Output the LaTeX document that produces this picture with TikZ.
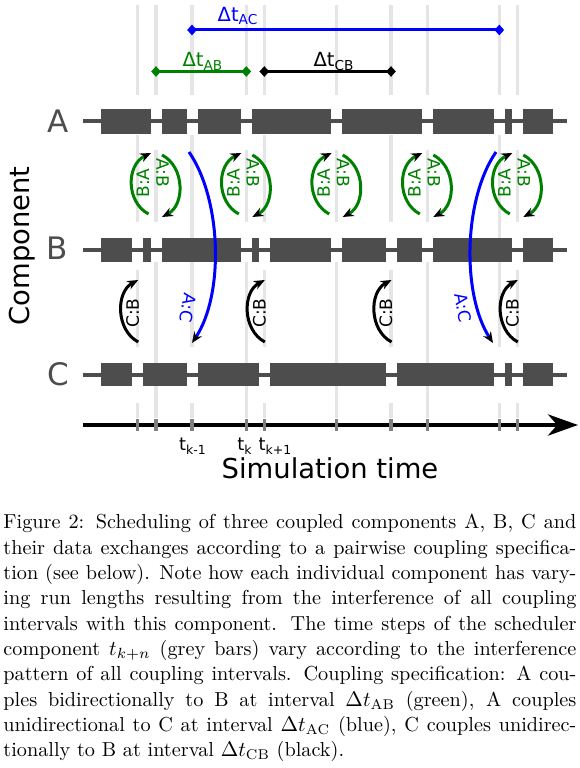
\documentclass[tikz,border=0pt]{standalone}
\usepackage{fontspec}
\usepackage{amsmath}
\usetikzlibrary{arrows.meta,shapes.geometric}

\newfontfamily\dejavu{DejaVu Sans}
\newlength\pxu
\setlength\pxu{0.4743pt}

\definecolor{bargrey}{HTML}{4D4D4D}
\definecolor{stepgrey}{HTML}{E5E5E5}
\definecolor{tickgrey}{HTML}{7F7F7F}
\definecolor{mplgreen}{HTML}{008000}
\definecolor{mplblue}{HTML}{0000FF}

\tikzset{
    rowlabel/.style={font=\dejavu\fontsize{14.7}{15}\selectfont, text=bargrey, inner sep=0pt},
    axislabel/.style={font=\dejavu\fontsize{13}{14}\selectfont, inner sep=0pt},
    dtlabel/.style={font=\dejavu\fontsize{9.25}{10}\selectfont, inner sep=0pt},
    xlabel/.style={font=\dejavu\fontsize{8.1}{9}\selectfont, inner sep=0pt},
    ticklabel/.style={font=\dejavu\fontsize{8.45}{9}\selectfont, inner sep=0pt},
    runbar/.style={fill=bargrey},
    runline/.style={draw=bargrey, line width=4\pxu},
    steprule/.style={draw=stepgrey, line width=3.5\pxu},
    steptick/.style={draw=tickgrey, line width=3.5\pxu},
    xchg/.style={line width=3\pxu, -{Stealth[length=5.2pt, width=4.3pt, color=black]}},
    interval/.style={line width=3\pxu},
    endmark/.style={diamond, fill, inner sep=0pt, minimum width=10\pxu, minimum height=11\pxu}
}

\begin{document}
\begin{tikzpicture}[x=\pxu, y=-\pxu]
\useasboundingbox (0,0) rectangle (579,768);

% scheduler time steps (grey bars)
\foreach \t in {137.7,156,192,246.3,264.3,336.7,391,427.3,499.3,517.3}{
    \draw[steprule] (\t,5) -- (\t,95);
    \draw[steprule] (\t,403) -- (\t,418);
}
\foreach \t in {156,246.3,336.7,427.3}{
    \draw[steprule] (\t,150) -- (\t,222);
    \draw[steprule] (\t,262) -- (\t,403);
}
\foreach \t in {137.7,264.3,391}{
    \draw[steprule] (\t,135) -- (\t,222);
    \draw[steprule] (\t,270) -- (\t,347);
}
\draw[steprule] (517.3,150) -- (517.3,222) (517.3,270) -- (517.3,347);
\foreach \t in {192,499.3}
    \draw[steprule] (\t,135) -- (\t,347);

% coupling intervals
\node[endmark, mplblue]  (ac-l) at (192,30) {};
\node[endmark, mplblue]  (ac-r) at (499.3,30) {};
\node[endmark, mplgreen] (ab-l) at (156,71.5) {};
\node[endmark, mplgreen] (ab-r) at (246.3,71.5) {};
\node[endmark]           (cb-l) at (264.3,71.5) {};
\node[endmark]           (cb-r) at (391,71.5) {};
\draw[interval, mplblue]  (ac-l.center) -- (ac-r.center);
\draw[interval, mplgreen] (ab-l.center) -- (ab-r.center);
\draw[interval]           (cb-l.center) -- (cb-r.center);
\node[dtlabel, mplblue]  (ac-lab) at (238,16)   {Δt\textsubscript{AC}};
\node[dtlabel, mplgreen] (ab-lab) at (203,61.5) {Δt\textsubscript{AB}};
\node[dtlabel]           (cb-lab) at (334,61.5) {Δt\textsubscript{CB}};

% components and their runs
\node[rowlabel] (A) at (58.5,121.5) {A};
\node[rowlabel] (B) at (57,248)     {B};
\node[rowlabel] (C) at (58,374)     {C};
\node[axislabel, rotate=90] (comp) at (22,246) {Component};

\draw[runline] (83,121.5) -- (567,121.5);
\draw[runline] (83,250) -- (567,250);
\draw[runline] (83,375) -- (567,375);
\foreach \a/\b in {95.5/156,156/192,192/246.3,246.3/336.7,336.7/427.3,427.3/499.3,499.3/517.3,517.3/558.5}
    \fill[runbar] (\a+5.5,109) rectangle (\b-5.5,134);
\foreach \a/\b in {95.5/137.7,137.7/156,156/246.3,246.3/264.3,264.3/336.7,336.7/391,391/427.3,427.3/517.3,517.3/558.5}
    \fill[runbar] (\a+5.5,238) rectangle (\b-5.5,262);
\foreach \a/\b in {95.5/137.7,137.7/192,192/264.3,264.3/391,391/499.3,499.3/517.3,517.3/558.5}
    \fill[runbar] (\a+5.5,363.5) rectangle (\b-5.5,386.5);

% A <-> B exchanges
\foreach \t [count=\i] in {156,246.3,336.7,427.3,517.3}{
    \coordinate (ba-from\i) at (\t-7.5,214);
    \coordinate (ba-to\i)   at (\t-5,153);
    \coordinate (ab-from\i) at (\t+6,155);
    \coordinate (ab-to\i)   at (\t+6,217);
    \draw[xchg, mplgreen] (ba-from\i) .. controls +(-22.5,-12) and +(-25,12) .. (ba-to\i);
    \draw[xchg, mplgreen] (ab-from\i) .. controls +(23,12) and +(23,-12) .. (ab-to\i);
    \node[xlabel, mplgreen, rotate=90]  (balab\i) at (\t-13,183) {B:A};
    \node[xlabel, mplgreen, rotate=-90] (ablab\i) at (\t+6.5,173) {A:B};
}

% C -> B exchanges
\foreach \t [count=\i] in {137.7,264.3,391,517.3}{
    \coordinate (cb-from\i) at (\t+0.5,342);
    \coordinate (cb-to\i)   at (\t+0.5,280);
    \draw[xchg] (cb-from\i) .. controls +(-22.5,-12) and +(-22.5,12) .. (cb-to\i);
    \node[xlabel, rotate=90] (cblab\i) at (\t-5,313) {C:B};
}

% A -> C exchanges
\coordinate (ac-from1) at (189,152);
\coordinate (ac-to1)   at (192,343);
\coordinate (ac-from2) at (496,152);
\coordinate (ac-to2)   at (493,343);
\draw[xchg, mplblue] (ac-from1) .. controls (222,200) and (224,295) .. (ac-to1);
\draw[xchg, mplblue] (ac-from2) .. controls (463,200) and (462,295) .. (ac-to2);
\node[xlabel, mplblue, rotate=-100] (aclab1) at (188,308) {A:C};
\node[xlabel, mplblue, rotate=-80]  (aclab2) at (463,308) {A:C};

% simulation time axis
\coordinate (t-start) at (83,425);
\coordinate (t-end)   at (578,425);
\draw[line width=4\pxu, -{Stealth[length=14.2pt, width=10pt, inset=4.3pt]}] (t-start) -- (t-end);
\foreach \t in {137.7,156,192,246.3,264.3,336.7,391,427.3,499.3,517.3}
    \draw[steptick] (\t,419) -- (\t,431);
\node[ticklabel] (tkm) at (193,446) {t\textsubscript{k-1}};
\node[ticklabel] (tk)  at (245,446) {t\textsubscript{k}};
\node[ticklabel] (tkp) at (275.5,446) {t\textsubscript{k+1}};
\node[axislabel] (simtime) at (330,468) {Simulation time};

% caption
\node[anchor=north west, inner sep=0pt, text width=573\pxu, align=justify,
      font=\fontsize{9.6}{12}\selectfont] (caption) at (3,514)
{Figure 2: Scheduling of three coupled components A, B, C and\linebreak
their data exchanges according to a pairwise coupling specifica-\linebreak
tion (see below). Note how each individual component has vary-\linebreak
ing run lengths resulting from the interference of all coupling\linebreak
intervals with this component. The time steps of the scheduler\linebreak
component $t_{k+n}$ (grey bars) vary according to the interference\linebreak
pattern of all coupling intervals. Coupling specification: A cou-\linebreak
ples bidirectionally to B at interval $\Delta t_{\mathrm{AB}}$ (green), A couples\linebreak
unidirectional to C at interval $\Delta t_{\mathrm{AC}}$ (blue), C couples unidirec-\linebreak
tionally to B at interval $\Delta t_{\mathrm{CB}}$ (black).};
\end{tikzpicture}
\end{document}
